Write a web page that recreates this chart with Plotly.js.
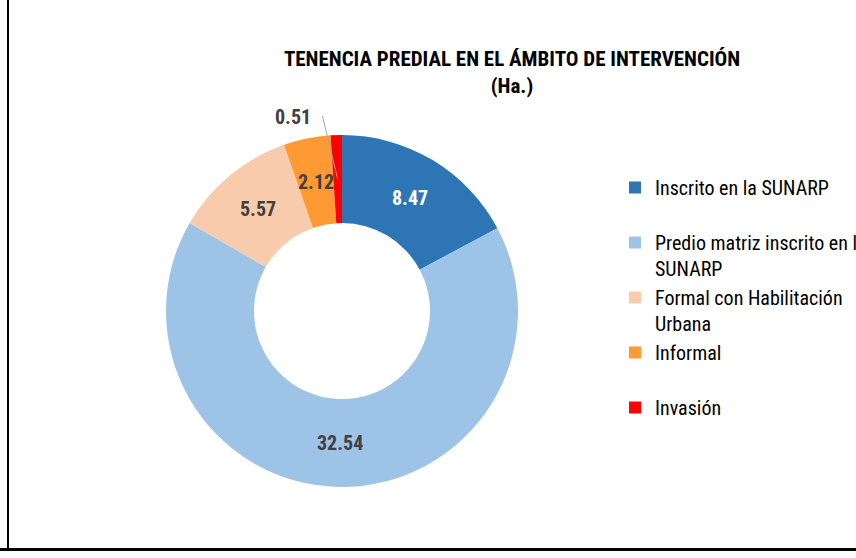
<!DOCTYPE html>
<html>
<head>
<meta charset="utf-8">
<script src="https://cdn.plot.ly/plotly-3.0.1.min.js"></script>
<style>
  html, body { margin: 0; padding: 0; background: #fff; }
  #chart { width: 856px; height: 558px; position: relative; }
  #frameL { position: absolute; left: 7px; top: 0; width: 2px; height: 551px; background: #000; }
  #frameB { position: absolute; left: 0; top: 548px; width: 856px; height: 3px; background: #000; }
</style>
</head>
<body>
<div id="chart"></div>
<div id="frameL"></div>
<div id="frameB"></div>
<script>
const categories = [
  "Inscrito en la SUNARP<br>\u00a0",
  "Predio matriz inscrito en la<br>SUNARP",
  "Formal con Habilitación<br>Urbana",
  "Informal<br>\u00a0",
  "Invasión<br>\u00a0"
];
const values = [8.47, 32.54, 5.57, 2.12, 0.51];
const valueLabels = ["8.47", "32.54", "5.57", "2.12", "0.51"];
const colors = ["#2E75B6", "#9DC3E6", "#F8CBAD", "#FF9933", "#FF0000"];
const labelColors = ["#FFFFFF", "#404040", "#404040", "#404040", "#404040"];

const W = 856, H = 558;
const cx = 342, cy = 311, R = 176;
const HOLE = 0.5;
const domX = [(cx - R) / W, (cx + R) / W];
const domY = [(H - cy - R) / H, (H - cy + R) / H];

const FONT = "Roboto Condensed, Liberation Sans Narrow, sans-serif";

// data labels placed at each slice's mid-angle, halfway across the ring (derived from values)
const total = values.reduce((a, b) => a + b, 0);
const rr = (1 + HOLE) / 2 * R;
const lastIdx = values.length - 1;
const annotations = [];
let cum = 0;
values.forEach((v, i) => {
  const ang = (cum + v / 2) / total * 2 * Math.PI;
  cum += v;
  const px = cx + rr * Math.sin(ang);
  const py = cy - rr * Math.cos(ang);
  const a = {
    xref: "paper", yref: "paper",
    x: px / W, y: 1 - py / H,
    xanchor: "center", yanchor: "middle",
    text: "<b>" + valueLabels[i] + "</b>",
    font: { family: FONT, size: 20, color: labelColors[i] },
    showarrow: false
  };
  if (i === lastIdx) {
    // label moved outside the ring, with a leader line back to the slice
    a.xshift = -45;
    a.yshift = 62;
    annotations.push({
      xref: "paper", yref: "paper",
      x: px / W, y: 1 - py / H,
      text: " ", font: { size: 2 },
      showarrow: true, ax: -16, ay: -66,
      arrowhead: 0, arrowwidth: 1, arrowcolor: "#A6A6A6", standoff: 0
    });
  }
  annotations.push(a);
});

const trace = {
  type: "pie",
  labels: categories,
  values: values,
  textinfo: "none",
  hole: HOLE,
  sort: false,
  direction: "clockwise",
  rotation: 0,
  marker: { colors: colors, line: { color: "#FFFFFF", width: 0 } },
  domain: { x: domX, y: domY },
  hoverinfo: "label+value"
};

const layout = {
  width: W, height: H,
  margin: { l: 0, r: 0, t: 0, b: 0, autoexpand: false },
  paper_bgcolor: "#FFFFFF",
  showlegend: true,
  title: {
    text: "<b>TENENCIA PREDIAL EN EL ÁMBITO DE INTERVENCIÓN<br>(Ha.)</b>",
    font: { family: FONT, size: 21, color: "#000000" },
    x: 512 / W, xanchor: "center",
    y: 1 - 66 / H, yanchor: "top"
  },
  legend: {
    x: 615 / W, xanchor: "left",
    y: 1 - 168 / H, yanchor: "top",
    valign: "top",
    font: { family: FONT, size: 20, color: "#000000" },
    tracegroupgap: 0,
    bgcolor: "rgba(0,0,0,0)"
  },
  annotations: annotations
};

Plotly.newPlot("chart", [trace], layout, { displayModeBar: false, staticPlot: true });
</script>
</body>
</html>
